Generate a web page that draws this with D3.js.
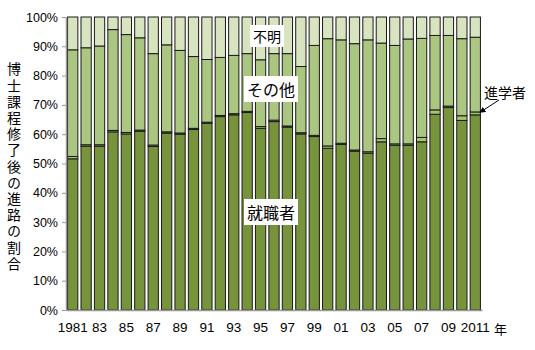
<!DOCTYPE html>
<html>
<head>
<meta charset="utf-8">
<script src="https://cdn.jsdelivr.net/npm/d3@7/dist/d3.min.js"></script>
<style>
  html, body { margin: 0; padding: 0; background: #fff; }
  svg { display: block; }
  text { font-family: "Liberation Sans", Arial, "Noto Sans CJK JP", sans-serif; fill: #000; }
  .jp { font-family: "Noto Sans CJK JP", sans-serif; }
</style>
</head>
<body>
<svg id="chart" width="535" height="350"></svg>
<script>
// Years 1981–2011
const years = d3.range(1981, 2012);

// Share of doctoral graduates by destination (%)
const employed = [51.6, 55.9, 55.9, 60.8, 60.1, 61.0, 55.8, 60.4, 60.0, 61.6, 63.7, 66.0, 66.6, 67.4, 62.0, 64.3, 62.4, 60.1, 59.2, 55.2, 56.5, 54.2, 53.5, 57.4, 56.2, 56.2, 57.4, 66.8, 69.1, 64.7, 66.6];
const furtherStudy = [0.8, 0.5, 0.5, 0.5, 0.5, 0.4, 0.5, 0.4, 0.4, 0.4, 0.4, 0.4, 0.4, 0.4, 0.6, 0.5, 0.4, 0.4, 0.4, 0.8, 0.4, 0.4, 0.5, 1.1, 0.5, 0.5, 1.5, 1.5, 0.5, 1.6, 1.0];
const other = [36.4, 33.1, 33.7, 34.4, 33.4, 31.5, 31.2, 29.7, 28.2, 24.5, 21.4, 19.8, 19.9, 19.7, 22.8, 22.7, 24.7, 22.6, 30.7, 36.6, 35.3, 36.3, 38.2, 32.6, 33.6, 35.8, 33.8, 25.4, 24.1, 26.3, 25.5];
const unknown = years.map((y, i) => +(100 - employed[i] - furtherStudy[i] - other[i]).toFixed(1));

const seriesKeys = ["就職者", "進学者", "その他", "不明"];
const seriesColors = ["#77933c", "#a6c46e", "#abc681", "#d8e4c0"];

const yTicks = d3.range(0, 101, 10);
const xTickYears = years.filter((y, i) => i % 2 === 0);
const xTickText = y => (y === 1981 || y === 2011) ? String(y) : String(y).slice(2);

const yTitle = "博士課程修了後の進路の割合";

// Rows for stacking
const rows = years.map((y, i) => ({
  year: y,
  "就職者": employed[i],
  "進学者": furtherStudy[i],
  "その他": other[i],
  "不明": unknown[i]
}));

const svg = d3.select("#chart");

const x = d3.scaleBand().domain(years).range([66, 482]).paddingInner(0.16).paddingOuter(0.08);
const y = d3.scaleLinear().domain([0, 100]).range([310, 17]);
const color = d3.scaleOrdinal().domain(seriesKeys).range(seriesColors);

const stacked = d3.stack().keys(seriesKeys)(rows);

// Bars
svg.append("g").selectAll("g")
  .data(stacked)
  .join("g")
    .attr("fill", d => color(d.key))
  .selectAll("rect")
  .data(d => d)
  .join("rect")
    .attr("x", d => x(d.data.year) + 0.5)
    .attr("y", d => y(d[1]))
    .attr("width", x.bandwidth() - 1)
    .attr("height", d => y(d[0]) - y(d[1]))
    .attr("stroke", "#1a1a1a")
    .attr("stroke-width", 1);

// Y axis
const yAxis = d3.axisLeft(y).tickValues(yTicks).tickFormat(d => d + "%").tickSize(4).tickSizeOuter(0);
const gy = svg.append("g").attr("transform", "translate(66,0)").call(yAxis);
gy.select(".domain").attr("stroke", "#999").attr("stroke-width", 1.5);
gy.selectAll(".tick line").attr("stroke", "#999");
gy.selectAll(".tick text").attr("x", -8).style("font-size", "12.5px")
  .style("font-family", "'Liberation Sans', Arial, sans-serif").attr("fill", "#000");

// X axis baseline
const xAxis = d3.axisBottom(x).tickValues(xTickYears).tickFormat(xTickText).tickSize(0);
const gx = svg.append("g").attr("transform", "translate(0,310)").call(xAxis);
gx.select(".domain").attr("stroke", "#999").attr("stroke-width", 1.5);
gx.selectAll(".tick text").attr("y", 12).style("font-size", "13.5px")
  .style("font-family", "'Liberation Sans', Arial, sans-serif").attr("fill", "#000");

// Year unit
svg.append("text").attr("class", "jp")
  .attr("x", 494).attr("y", 334)
  .style("font-size", "13px")
  .text("年");

// Vertical axis title, set in vertical writing mode
svg.append("text")
  .attr("class", "jp")
  .attr("x", 14)
  .attr("y", 62)
  .style("writing-mode", "vertical-rl")
  .style("text-orientation", "upright")
  .style("font-size", "14px")
  .style("letter-spacing", "2.2px")
  .text(yTitle);

// Inline series labels with white backing
function boxedLabel(text, cx, cy, size) {
  const g = svg.append("g");
  const t = g.append("text").attr("class", "jp")
    .attr("x", cx).attr("y", cy)
    .attr("text-anchor", "middle")
    .attr("dominant-baseline", "central")
    .style("font-size", size + "px")
    .text(text);
  const b = t.node().getBBox();
  g.insert("rect", "text")
    .attr("x", b.x - 3).attr("y", b.y - 1)
    .attr("width", b.width + 6).attr("height", b.height + 2)
    .attr("fill", "#fff");
}
boxedLabel("不明", 267, 36, 14);
boxedLabel("その他", 271, 89, 16);
boxedLabel("就職者", 271, 212, 16);

// Callout for the further-study segment
svg.append("defs").append("marker")
  .attr("id", "arrow").attr("viewBox", "0 0 10 10")
  .attr("refX", 9).attr("refY", 5)
  .attr("markerWidth", 6).attr("markerHeight", 6)
  .attr("orient", "auto")
  .append("path").attr("d", "M0,0 L10,5 L0,10 z").attr("fill", "#000");

const lastYear = years[years.length - 1];
const lastIdx = years.length - 1;
const arrowTipX = x(lastYear) + x.bandwidth() - 1;
const arrowTipY = y(employed[lastIdx] + furtherStudy[lastIdx] / 2) - 1;
svg.append("line")
  .attr("x1", 499).attr("y1", 100)
  .attr("x2", arrowTipX).attr("y2", arrowTipY)
  .attr("stroke", "#000").attr("stroke-width", 1)
  .attr("marker-end", "url(#arrow)");

svg.append("text").attr("class", "jp")
  .attr("x", 484).attr("y", 98)
  .style("font-size", "14px")
  .text("進学者");
</script>
</body>
</html>
